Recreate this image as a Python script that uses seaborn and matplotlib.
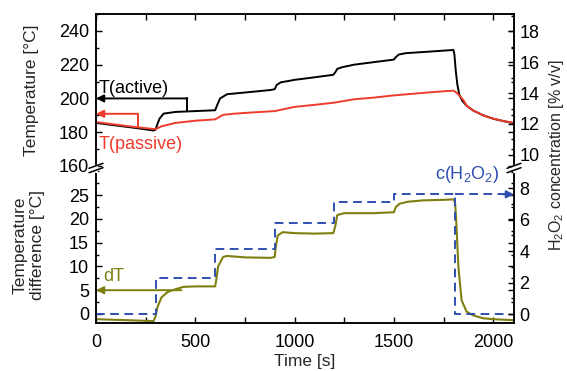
import numpy as np
import pandas as pd
import matplotlib
matplotlib.use("Agg")
import matplotlib.pyplot as plt
from matplotlib.lines import Line2D
from matplotlib.ticker import MultipleLocator
import seaborn as sns

# ---------------- data ----------------
t_active = [0, 100, 200, 290, 300, 310, 320, 340, 400, 500, 600, 610, 625, 660, 750, 880,
            900, 910, 930, 1000, 1100, 1195, 1205, 1215, 1240, 1300, 1400, 1500, 1510, 1525,
            1560, 1650, 1750, 1800, 1805, 1812, 1820, 1830, 1845, 1868, 1900, 1950, 2000,
            2050, 2100]
T_active = [185.5, 184.0, 182.5, 181.0, 181.5, 185.0, 188.0, 191.0, 192.0, 192.5, 193.0,
            196.0, 200.0, 202.5, 203.5, 205.0, 205.5, 208.0, 209.5, 211.0, 212.5, 214.0,
            215.5, 217.5, 218.5, 220.0, 221.5, 223.0, 224.5, 226.0, 226.8, 227.5, 228.3,
            228.7, 226.0, 216.0, 208.0, 202.0, 198.5, 195.5, 192.8, 190.0, 188.0, 186.6,
            185.4]

t_passive = [0, 100, 200, 300, 330, 400, 500, 600, 640, 700, 800, 900, 1000, 1100, 1200,
             1300, 1400, 1500, 1600, 1700, 1800, 1820, 1850, 1868, 1900, 1950, 2000, 2050,
             2100]
T_passive = [186.0, 184.5, 183.0, 181.8, 183.5, 185.5, 186.8, 187.6, 190.3, 191.0, 191.8,
             192.5, 195.0, 196.2, 197.5, 199.5, 200.5, 201.8, 202.8, 203.8, 204.6, 203.0,
             199.0, 195.5, 192.8, 190.0, 188.0, 186.7, 185.6]

t_dT = [0, 150, 290, 300, 310, 330, 360, 400, 440, 500, 600, 605, 615, 640, 660, 750, 880,
        900, 905, 915, 940, 1000, 1100, 1195, 1205, 1215, 1250, 1400, 1500, 1510, 1530,
        1570, 1650, 1750, 1800, 1808, 1813, 1825, 1841, 1866, 1900, 1949, 2000, 2100]
dT = [-1.1, -1.3, -1.5, -0.5, 1.5, 3.5, 4.6, 5.2, 5.7, 5.8, 5.8, 7.0, 10.0, 12.0, 12.2,
      11.9, 11.8, 12.0, 14.0, 16.5, 17.2, 17.0, 16.9, 17.0, 18.5, 20.8, 21.2, 21.2, 21.4,
      22.5, 23.2, 23.6, 23.9, 24.0, 24.1, 23.5, 20.4, 9.9, 2.9, 0.5, -0.3, -0.9, -1.1, -1.3]

t_conc = [0, 300, 600, 900, 1200, 1500, 1808, 2080]
conc = [0.0, 2.27, 4.15, 5.77, 7.1, 7.6, 0.0, 0.0]

x_ticks = [0, 500, 1000, 1500, 2000]
temp_ticks = [160, 180, 200, 220, 240]
dT_ticks = [0, 5, 10, 15, 20, 25]
conc_ticks_top = [10, 12, 14, 16, 18]
conc_ticks_bot = [0, 2, 4, 6, 8]

# ---------------- style ----------------
sns.set_style("ticks")
plt.rcParams["font.family"] = ["Liberation Sans", "DejaVu Sans"]
plt.rcParams["mathtext.default"] = "regular"

BLACK = "#000000"
RED = "#EE3B2B"
OLIVE = "#7F7F10"
BLUE = "#2F4FB0"
DASH = (0, (4.5, 2.8))

W_PX, H_PX = 567, 371
fig = plt.figure(figsize=(W_PX / 100, H_PX / 100), dpi=100)

def fx(x):
    return x / W_PX

def fy(y):
    return 1 - y / H_PX

L, R, T, BRK, B = 96, 514, 14, 168, 323
ax_top = fig.add_axes([fx(L), fy(BRK), fx(R) - fx(L), fy(T) - fy(BRK)])
ax_bot = fig.add_axes([fx(L), fy(B), fx(R) - fx(L), fy(BRK) - fy(B)])
ax_top_r = ax_top.twinx()
ax_bot_r = ax_bot.twinx()

XMAX = 2105
for a in (ax_top, ax_bot, ax_top_r, ax_bot_r):
    a.set_xlim(0, XMAX)
    for s in a.spines.values():
        s.set_linewidth(1.1)
        s.set_color("black")
    a.set_facecolor("none")

ax_top.set_ylim(158.8, 250)
ax_top_r.set_ylim(9.16, 19.1)
ax_bot.set_ylim(-1.9, 30.7)
ax_bot_r.set_ylim(-0.57, 9.27)

for a in (ax_top, ax_top_r):
    a.spines["bottom"].set_visible(False)
for a in (ax_bot, ax_bot_r):
    a.spines["top"].set_visible(False)

# ---------------- lines ----------------
sns.lineplot(x=t_active, y=T_active, ax=ax_top, color=BLACK, linewidth=1.4)
sns.lineplot(x=t_passive, y=T_passive, ax=ax_top, color=RED, linewidth=1.4)
sns.lineplot(x=t_conc, y=conc, ax=ax_bot_r, color=BLUE, linewidth=1.4,
             drawstyle="steps-post", linestyle=DASH)
sns.lineplot(x=t_dT, y=dT, ax=ax_bot, color=OLIVE, linewidth=1.5)

# ---------------- annotations ----------------
arrow_kw = dict(arrowstyle="-|>", lw=1.4, mutation_scale=11, shrinkA=0, shrinkB=0)

# T(active)
ax_top.plot([460, 460], [192.3, 200], color=BLACK, lw=1.4)
ax_top.annotate("", xy=(0, 200), xytext=(460, 200),
                arrowprops=dict(color=BLACK, **arrow_kw))
ax_top.text(12, 200.8, "T(active)", color=BLACK, fontsize=13, ha="left", va="bottom")

# T(passive)
ax_top.plot([210, 210], [183.0, 190.9], color=RED, lw=1.4)
ax_top.annotate("", xy=(0, 190.9), xytext=(210, 190.9),
                arrowprops=dict(color=RED, **arrow_kw))
ax_top.text(12, 172.5, "T(passive)", color=RED, fontsize=13, ha="left", va="center")

# dT
ax_bot.annotate("", xy=(0, 5.0), xytext=(430, 5.0),
                arrowprops=dict(color=OLIVE, **arrow_kw))
ax_bot.text(35, 7.8, "dT", color=OLIVE, fontsize=13, ha="left", va="center")

# c(H2O2)
ax_bot_r.plot([1808, 2060], [7.6, 7.6], color=BLUE, lw=1.4, linestyle=DASH)
ax_bot_r.annotate("", xy=(XMAX, 7.6), xytext=(2050, 7.6),
                  arrowprops=dict(color=BLUE, **arrow_kw))
ax_bot_r.text(1705, 8.85, r"c(H$_2$O$_2$)", color=BLUE, fontsize=13, ha="left", va="center")

# ---------------- ticks ----------------
tick_kw = dict(direction="in", width=1.0, colors="black")
ax_top.set_yticks(temp_ticks)
ax_top.yaxis.set_minor_locator(MultipleLocator(10))
ax_top.tick_params(axis="y", which="both", left=True, right=True, labelleft=True,
                   labelright=False, **tick_kw)
ax_top.tick_params(axis="y", which="major", length=4.5, labelsize=13, pad=5)
ax_top.tick_params(axis="y", which="minor", length=2.5)
ax_top.set_xticks(x_ticks)
ax_top.xaxis.set_minor_locator(MultipleLocator(250))
ax_top.tick_params(axis="x", which="both", top=True, bottom=False, labeltop=False,
                   labelbottom=False, length=4, **tick_kw)

ax_top_r.set_yticks(conc_ticks_top)
ax_top_r.yaxis.set_minor_locator(MultipleLocator(1))
ax_top_r.tick_params(axis="y", which="both", right=True, left=False, **tick_kw)
ax_top_r.tick_params(axis="y", which="major", length=4.5, labelsize=13, pad=4)
ax_top_r.tick_params(axis="y", which="minor", length=2.5)
ax_top_r.tick_params(axis="x", which="both", top=False, bottom=False)

ax_bot.set_yticks(dT_ticks)
ax_bot.yaxis.set_minor_locator(MultipleLocator(2.5))
ax_bot.tick_params(axis="y", which="both", left=True, right=True, labelleft=True,
                   labelright=False, **tick_kw)
ax_bot.tick_params(axis="y", which="major", length=4.5, labelsize=13, pad=5)
ax_bot.tick_params(axis="y", which="minor", length=2.5)
ax_bot.set_xticks(x_ticks)
ax_bot.xaxis.set_minor_locator(MultipleLocator(250))
ax_bot.tick_params(axis="x", which="both", bottom=True, top=False, labelbottom=True,
                   length=4, **tick_kw)
ax_bot.tick_params(axis="x", which="major", labelsize=13, pad=8)

ax_bot_r.set_yticks(conc_ticks_bot)
ax_bot_r.yaxis.set_minor_locator(MultipleLocator(1))
ax_bot_r.tick_params(axis="y", which="both", right=True, left=False, **tick_kw)
ax_bot_r.tick_params(axis="y", which="major", length=4.5, labelsize=13, pad=4)
ax_bot_r.tick_params(axis="y", which="minor", length=2.5)
ax_bot_r.tick_params(axis="x", which="both", top=False, bottom=False)

for a in (ax_top, ax_bot, ax_top_r, ax_bot_r):
    a.set_xlabel("")
    a.set_ylabel("")

# ---------------- labels ----------------
ax_bot.set_xlabel("Time [s]", fontsize=12.5, labelpad=2)
fig.text(fx(32), fy(90), "Temperature [°C]", rotation=90, fontsize=12.5,
         ha="center", va="center")
fig.text(fx(29), fy(245), "Temperature\ndifference [°C]", rotation=90, fontsize=12.5,
         ha="center", va="center", multialignment="center", linespacing=1.15)
fig.text(fx(556), fy(155), r"H$_2$O$_2$ concentration [% v/v]", rotation=90,
         fontsize=11.5, ha="center", va="center")

# ---------------- axis break marks ----------------
for xb in (L, R):
    fig.add_artist(Line2D([fx(xb), fx(xb)], [fy(166), fy(170.5)], color="white",
                          lw=2.5, transform=fig.transFigure))
    for dy in (-2.2, 2.2):
        fig.add_artist(Line2D([fx(xb - 7), fx(xb + 7)],
                              [fy(BRK + dy + 2.5), fy(BRK + dy - 2.5)],
                              color="black", lw=1.1, transform=fig.transFigure))

fig.savefig("out.png", dpi=100)
